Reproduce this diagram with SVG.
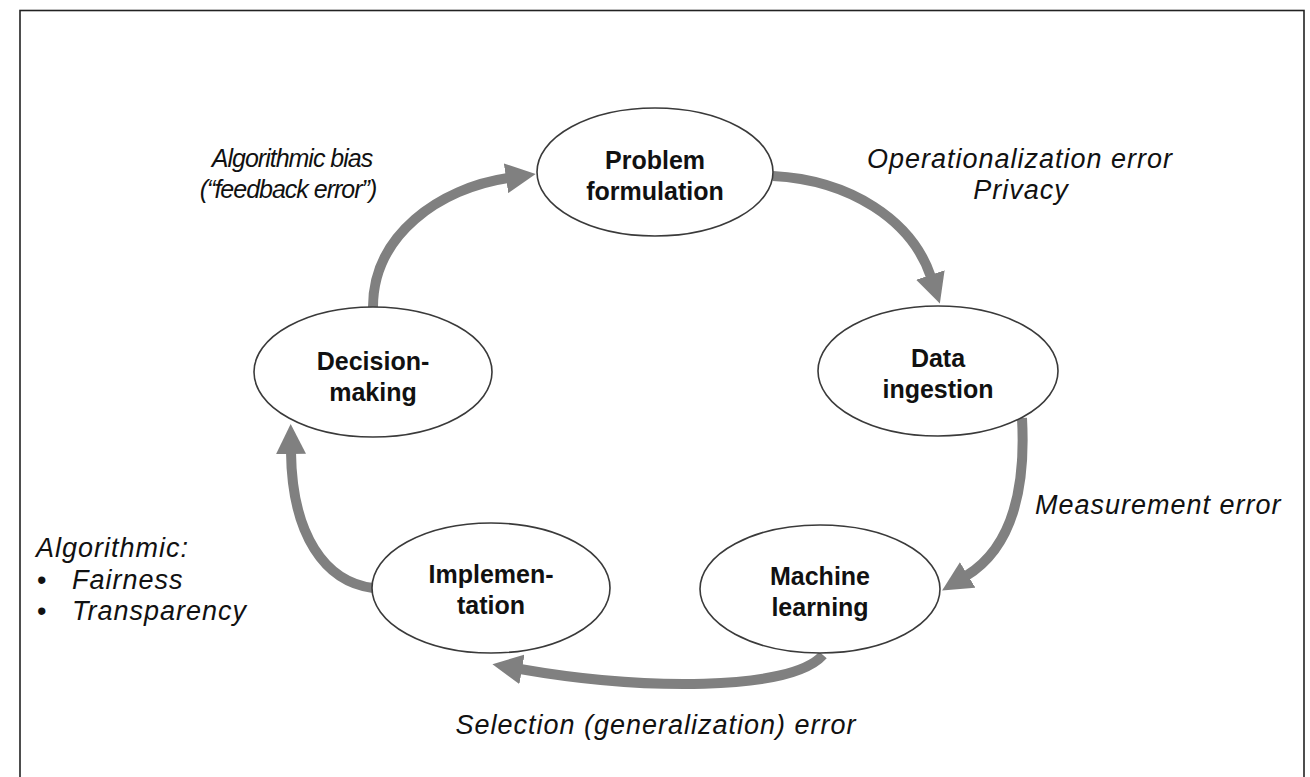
<svg xmlns="http://www.w3.org/2000/svg" width="1310" height="777" viewBox="0 0 1310 777">
  <style>
    .frame { fill: #ffffff; stroke: #222222; stroke-width: 1.6; }
    .node ellipse { fill: #ffffff; stroke: #3a3a3a; stroke-width: 1.6; }
    .node text { font-family: "Liberation Sans", Arial, Helvetica, sans-serif; font-size: 25px; font-weight: bold; fill: #111111; text-anchor: middle; }
    .edge { fill: none; stroke: #808080; stroke-width: 10; marker-end: url(#head); }
    .label { font-family: "Liberation Sans", Arial, Helvetica, sans-serif; font-size: 27px; letter-spacing: 1px; font-style: italic; fill: #111111; }
    .small { font-size: 25px; letter-spacing: -1px; }
    .mid { text-anchor: middle; }
  </style>
  <defs>
    <marker id="head" viewBox="0 0 30 30" markerUnits="userSpaceOnUse" markerWidth="30" markerHeight="30" refX="2" refY="15" orient="auto">
      <path d="M0,0 L30,15 L0,30 Z" fill="#808080"/>
    </marker>
  </defs>

  <!-- outer frame (bottom edge runs past the canvas) -->
  <rect class="frame" x="20" y="10.5" width="1284" height="800"/>

  <!-- cycle connectors -->
  <g id="connectors">
    <path class="edge" d="M373,307 C373,235 440,188 508,178"/>
    <path class="edge" d="M773,176 C850,180 912,220 931,277"/>
    <path class="edge" d="M1022,418 C1026,490 1012,548 966,576"/>
    <path class="edge" d="M823,655 C790,692 640,690 520,669"/>
    <path class="edge" d="M373,588 C325,582 292,535 291,452"/>
  </g>

  <!-- stages -->
  <g id="problem-formulation" class="node">
    <ellipse cx="655" cy="172" rx="118" ry="64"/>
    <text x="655" y="169">Problem</text>
    <text x="655" y="200">formulation</text>
  </g>
  <g id="data-ingestion" class="node">
    <ellipse cx="938" cy="371" rx="120" ry="65"/>
    <text x="938" y="367">Data</text>
    <text x="938" y="398">ingestion</text>
  </g>
  <g id="machine-learning" class="node">
    <ellipse cx="820" cy="589" rx="120" ry="64"/>
    <text x="820" y="585">Machine</text>
    <text x="820" y="616">learning</text>
  </g>
  <g id="implementation" class="node">
    <ellipse cx="491" cy="588" rx="119" ry="65"/>
    <text x="491" y="583">Implemen-</text>
    <text x="491" y="614">tation</text>
  </g>
  <g id="decision-making" class="node">
    <ellipse cx="373" cy="372" rx="119" ry="65"/>
    <text x="373" y="370">Decision-</text>
    <text x="373" y="401">making</text>
  </g>

  <!-- error labels -->
  <g id="labels">
    <text class="label small mid" x="292" y="167">Algorithmic bias</text>
    <text class="label small mid" x="288" y="198">(“feedback error”)</text>
    <text class="label mid" x="1020" y="168">Operationalization error</text>
    <text class="label mid" x="1021" y="199">Privacy</text>
    <text class="label" x="1035" y="514">Measurement error</text>
    <text class="label mid" x="656" y="734">Selection (generalization) error</text>
    <text class="label" x="36" y="557">Algorithmic:</text>
    <text class="label" x="37" y="589" style="font-style:normal">•</text>
    <text class="label" x="72" y="589">Fairness</text>
    <text class="label" x="37" y="620" style="font-style:normal">•</text>
    <text class="label" x="72" y="620">Transparency</text>
  </g>
</svg>
